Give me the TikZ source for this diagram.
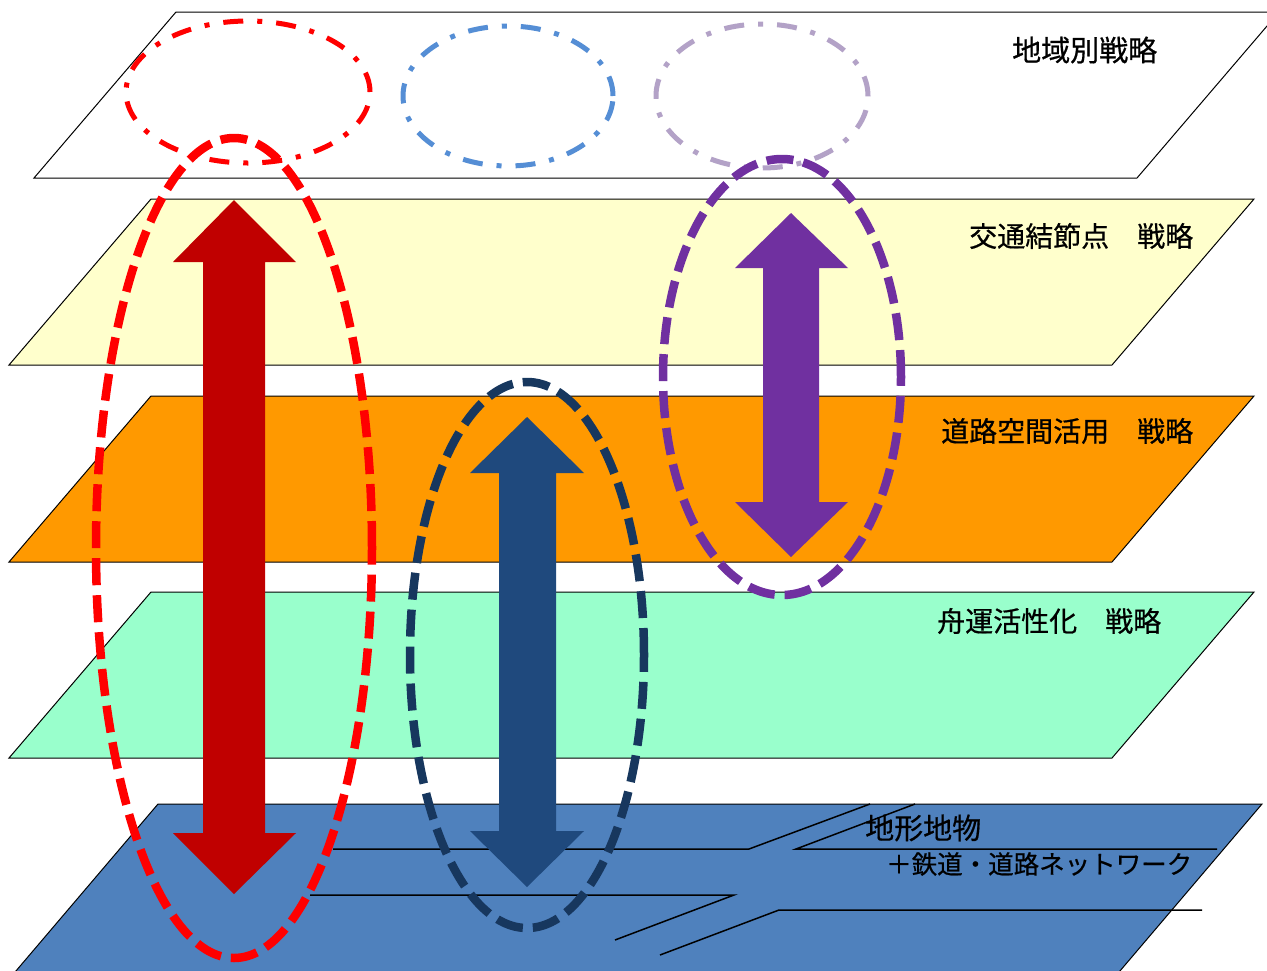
\documentclass[tikz,border=0pt]{standalone}
\usepackage{fontspec}
\newfontfamily\jp[FakeBold=0.6]{Noto Sans CJK JP}
\definecolor{plA}{HTML}{FFFFFF}
\definecolor{plB}{HTML}{FFFFCC}
\definecolor{plC}{HTML}{FF9900}
\definecolor{plD}{HTML}{99FFCC}
\definecolor{plE}{HTML}{4F81BD}
\definecolor{arrRed}{HTML}{C00000}
\definecolor{arrBlue}{HTML}{1F497D}
\definecolor{arrPurple}{HTML}{7030A0}
\definecolor{ellRed}{HTML}{FF0000}
\definecolor{ellNavy}{HTML}{17375E}
\definecolor{ellPurple}{HTML}{7030A0}
\definecolor{ellBlue}{HTML}{558ED5}
\definecolor{ellLav}{HTML}{B3A2C7}
\tikzset{
  plane/.style={draw=black, line width=1pt},
  netline/.style={draw=black, line width=1.5pt},
  biglabel/.style={font=\jp\fontsize{28}{32}\selectfont, anchor=west, inner sep=0pt, text=black},
  bigell/.style={line width=8.5pt, dash pattern=on 27pt off 10pt},
  smallell/.style={line width=5pt, dash pattern=on 20pt off 14pt on 5pt off 14pt},
}
\begin{document}
\begin{tikzpicture}[x=1pt,y=-1pt]
\useasboundingbox (0,0) rectangle (1267,970);
\clip (0,0) rectangle (1267,970);
% planes
\filldraw[plane, fill=plA] (176,12) -- (1279,12) -- (1137,178) -- (34,178) -- cycle;
\filldraw[plane, fill=plB] (151,199) -- (1254,199) -- (1112,365) -- (9,365) -- cycle;
\filldraw[plane, fill=plC] (151,396) -- (1254,396) -- (1112,562) -- (9,562) -- cycle;
\filldraw[plane, fill=plD] (151,592) -- (1254,592) -- (1112,758) -- (9,758) -- cycle;
\filldraw[plane, fill=plE] (158,804) -- (1262,804) -- (1108,985) -- (4,985) -- cycle;
% network lines
\draw[netline] (333,849) -- (749,849) -- (870,804);
\draw[netline] (1217,849) -- (796,849) -- (915,804);
\draw[netline] (310,895) -- (734,895) -- (615,940);
\draw[netline] (660,955) -- (779,910) -- (1202,910);
% labels
\node[biglabel, font=\jp\fontsize{29}{32}\selectfont] (l1) at (1012,50) {地域別戦略};
\node[biglabel] (l2) at (969,236) {交通結節点　戦略};
\node[biglabel] (l3) at (941,431) {道路空間活用　戦略};
\node[biglabel] (l4) at (937,621) {舟運活性化　戦略};
\node[biglabel, font=\jp\fontsize{29}{32}\selectfont] (l5) at (865,828) {地形地物};
\node[biglabel, font=\jp\fontsize{25.5}{30}\selectfont] (l6) at (886,864) {＋鉄道・道路ネットワーク};
% arrows
\fill[arrRed] (234,200) -- (296,262) -- (265,262) -- (265,833) -- (296,833) -- (234,894) -- (173,833) -- (203,833) -- (203,262) -- (173,262) -- cycle;
\fill[arrBlue] (527,417) -- (584,473) -- (556,473) -- (556,831) -- (584,831) -- (527,887) -- (470,831) -- (499,831) -- (499,473) -- (470,473) -- cycle;
\fill[arrPurple] (791,213) -- (848,268) -- (819,268) -- (819,502) -- (848,502) -- (791,557) -- (735,502) -- (763,502) -- (763,268) -- (735,268) -- cycle;
% top small ellipses
\draw[smallell, ellRed] (248,92) ellipse [x radius=122pt, y radius=71pt];
\draw[smallell, ellBlue] (508,96) ellipse [x radius=105pt, y radius=70pt];
\draw[smallell, ellLav] (762,96) ellipse [x radius=106pt, y radius=72pt];
% big ellipses
\draw[bigell, ellRed] (234,548) ellipse [x radius=138pt, y radius=410pt];
\draw[bigell, ellNavy] (527,655) ellipse [x radius=117pt, y radius=273pt];
\draw[bigell, ellPurple] (782,377) ellipse [x radius=119pt, y radius=218pt];
\end{tikzpicture}
\end{document}
